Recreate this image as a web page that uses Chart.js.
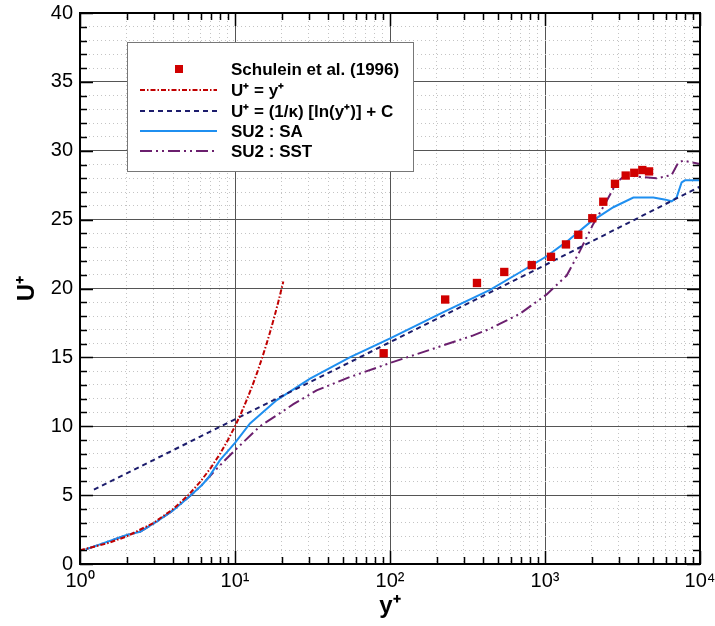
<!DOCTYPE html>
<html>
<head>
<meta charset="utf-8">
<script src="https://cdn.jsdelivr.net/npm/chart.js@4.4.1/dist/chart.umd.min.js"></script>
<style>
  html, body { margin: 0; padding: 0; background: #fff; }
</style>
</head>
<body>
<canvas id="profile" width="715" height="626"></canvas>
<script>
// values (y+ on x, U+ on y)
const schuleinY = [91, 227, 364, 546, 821, 1093, 1366, 1640, 2019, 2377, 2829, 3316, 3767, 4245, 4690];
const schuleinU = [15.3, 19.2, 20.4, 21.2, 21.7, 22.3, 23.2, 23.9, 25.1, 26.3, 27.6, 28.2, 28.4, 28.6, 28.5];

const linearY = [1, 1.5, 2, 3, 4, 5, 6, 7, 8, 9, 10, 11, 12, 13, 14, 15, 16, 17, 18, 19, 20.5];
const linearU = [1, 1.5, 2, 3, 4, 5, 6, 7, 8, 9, 10, 11, 12, 13, 14, 15, 16, 17, 18, 19, 20.5];

const logLawY = [1.23, 10, 100, 1000, 10000];
const logLawU = [5.4, 10.5, 16.1, 21.7, 27.4];

const saY = [1.09, 2.0, 2.44, 3.12, 4.0, 5.12, 6.1, 6.73, 8.0, 10, 12.5, 18.6, 30.5, 55, 101, 221, 442, 690, 1025, 1380, 1950, 2760, 3715, 5000, 6000, 6560, 7060, 7610, 8000, 10000];
const saU = [1.06, 2.1, 2.34, 3.07, 3.91, 4.93, 5.72, 6.26, 7.54, 8.79, 10.2, 11.9, 13.46, 15.0, 16.4, 18.28, 19.9, 21.18, 22.34, 23.4, 24.8, 25.9, 26.6, 26.6, 26.45, 26.33, 26.6, 27.7, 27.85, 27.85];

const sstY = [1.09, 2.0, 2.44, 3.12, 4.0, 5.12, 6.1, 6.73, 8.4, 10, 14.5, 19.5, 23.8, 33.6, 55, 100, 190, 345, 442, 690, 1025, 1380, 1683, 2050, 2440, 2900, 3365, 3900, 5250, 6560, 7250, 7800, 10000];
const sstU = [1.06, 2.1, 2.34, 3.07, 3.91, 4.93, 5.72, 6.26, 7.41, 8.26, 10.0, 10.95, 11.6, 12.6, 13.57, 14.59, 15.63, 16.6, 17.08, 18.17, 19.57, 20.94, 22.75, 24.69, 26.14, 27.7, 28.31, 28.12, 28.0, 28.24, 29.15, 29.28, 29.04];

const xDecadeLabels = ['10\u2070', '10\u00b9', '10\u00b2', '10\u00b3', '10\u2074'];

const xTickValues = [];
for (let e = 0; e < 4; e++) {
  for (let m = 1; m < 10; m++) {
    xTickValues.push(m * Math.pow(10, e));
  }
}
xTickValues.push(10000);

function isDecade(v) {
  const l = Math.log10(v);
  return Math.abs(l - Math.round(l)) < 1e-9;
}

function pts(xs, ys) {
  return xs.map((x, i) => ({x: x, y: ys[i]}));
}

const FONT = '"Liberation Sans", Arial, Helvetica, sans-serif';

const frameTicks = {
  id: 'frameTicks',
  afterDatasetsDraw(chart) {
    const {ctx, chartArea: a} = chart;
    const xs = chart.scales.x, ys = chart.scales.y;
    ctx.save();
    ctx.strokeStyle = '#000';
    ctx.lineWidth = 1.5;
    ctx.beginPath();
    xs.ticks.forEach(t => {
      const px = Math.round(xs.getPixelForValue(t.value)) + 0.5;
      const len = isDecade(t.value) ? 13 : 7;
      ctx.moveTo(px, a.bottom); ctx.lineTo(px, a.bottom - len);
      ctx.moveTo(px, a.top); ctx.lineTo(px, a.top + len);
    });
    ys.ticks.forEach(t => {
      const py = Math.round(ys.getPixelForValue(t.value)) + 0.5;
      const len = t.value % 5 === 0 ? 13 : 7;
      ctx.moveTo(a.left, py); ctx.lineTo(a.left + len, py);
      ctx.moveTo(a.right, py); ctx.lineTo(a.right - len, py);
    });
    ctx.stroke();
    ctx.lineWidth = 2;
    ctx.strokeRect(a.left, a.top, a.right - a.left, a.bottom - a.top);
    ctx.restore();
  }
};

const boxLegend = {
  id: 'boxLegend',
  afterDraw(chart) {
    const {ctx, chartArea: a} = chart;
    const left = a.left + 47, top = a.top + 29, w = 286, h = 129;
    ctx.save();
    ctx.fillStyle = '#fff';
    ctx.fillRect(left, top, w, h);
    ctx.strokeStyle = '#777';
    ctx.lineWidth = 1;
    ctx.strokeRect(left + 0.5, top + 0.5, w, h);
    const rows = [27, 48, 69, 89, 109];
    chart.data.datasets.forEach((ds, i) => {
      const cy = top + rows[i];
      if (ds.showLine === false) {
        ctx.fillStyle = ds.backgroundColor;
        ctx.fillRect(left + 48, cy - 4, 8, 8);
      } else {
        ctx.strokeStyle = ds.borderColor;
        ctx.lineWidth = ds.borderWidth;
        ctx.setLineDash(ds.borderDash || []);
        ctx.beginPath();
        ctx.moveTo(left + 13, cy);
        ctx.lineTo(left + 90, cy);
        ctx.stroke();
        ctx.setLineDash([]);
      }
      ctx.fillStyle = '#000';
      ctx.font = 'bold 17px ' + FONT;
      ctx.textBaseline = 'middle';
      ctx.fillText(ds.label, left + 104, cy + 1);
    });
    ctx.restore();
  }
};

new Chart(document.getElementById('profile'), {
  type: 'scatter',
  data: {
    datasets: [
      {
        label: 'Schulein et al. (1996)',
        data: pts(schuleinY, schuleinU),
        showLine: false,
        pointStyle: 'rect',
        pointRadius: 5.9,
        pointBorderWidth: 0,
        backgroundColor: '#d00000',
        borderColor: '#d00000'
      },
      {
        label: 'U\u207a = y\u207a',
        data: pts(linearY, linearU),
        showLine: true,
        pointRadius: 0,
        borderColor: '#c00000',
        borderWidth: 2,
        borderDash: [5, 2, 1.5, 2]
      },
      {
        label: 'U\u207a = (1/\u03ba) [ln(y\u207a)] + C',
        data: pts(logLawY, logLawU),
        showLine: true,
        pointRadius: 0,
        borderColor: '#1c1c6c',
        borderWidth: 2,
        borderDash: [5, 4]
      },
      {
        label: 'SU2 : SA',
        data: pts(saY, saU),
        showLine: true,
        pointRadius: 0,
        borderColor: '#1f8ff0',
        borderWidth: 2
      },
      {
        label: 'SU2 : SST',
        data: pts(sstY, sstU),
        showLine: true,
        pointRadius: 0,
        borderColor: '#6b1f6e',
        borderWidth: 2,
        borderDash: [12, 4, 2, 4, 2, 4]
      }
    ]
  },
  options: {
    responsive: false,
    animation: false,
    layout: { padding: { top: 13, right: 15, left: 0, bottom: 0 } },
    plugins: {
      legend: { display: false },
      tooltip: { enabled: false }
    },
    scales: {
      x: {
        type: 'logarithmic',
        min: 1,
        max: 10000,
        afterBuildTicks: s => { s.ticks = xTickValues.map(v => ({value: v})); },
        afterFit: s => {
          s.height = 62;
          s.paddingLeft = 0;
          s.paddingRight = 0;
        },
        ticks: {
          autoSkip: false,
          maxRotation: 0,
          padding: 5,
          color: '#000',
          font: { family: FONT, size: 20 },
          callback: v => isDecade(v) ? xDecadeLabels[Math.round(Math.log10(v))] : ''
        },
        grid: {
          drawTicks: false,
          color: c => (c.tick && isDecade(c.tick.value)) ? '#555555' : '#c4c4c4',
          lineWidth: 1
        },
        border: {
          color: '#000',
          width: 2,
          dash: c => (c.tick && !isDecade(c.tick.value)) ? [1, 3] : []
        },
        title: {
          display: true,
          text: 'y\u207a',
          color: '#000',
          font: { family: FONT, size: 24, weight: 'bold' },
          padding: { top: 5, bottom: 5 }
        }
      },
      y: {
        min: 0,
        max: 40,
        afterFit: s => {
          s.width = 80;
          s.paddingTop = 0;
          s.paddingBottom = 0;
        },
        ticks: {
          stepSize: 1,
          autoSkip: false,
          padding: 7,
          color: '#000',
          font: { family: FONT, size: 20 },
          callback: v => v % 5 === 0 ? v : ''
        },
        grid: {
          drawTicks: false,
          color: c => (c.tick && c.tick.value % 5 === 0) ? '#555555' : '#c4c4c4',
          lineWidth: 1
        },
        border: {
          color: '#000',
          width: 2,
          dash: c => (c.tick && c.tick.value % 5 !== 0) ? [1, 3] : []
        },
        title: {
          display: true,
          text: 'U\u207a',
          color: '#000',
          font: { family: FONT, size: 24, weight: 'bold' },
          padding: { top: 13, bottom: 13 }
        }
      }
    }
  },
  plugins: [frameTicks, boxLegend]
});
</script>
</body>
</html>
